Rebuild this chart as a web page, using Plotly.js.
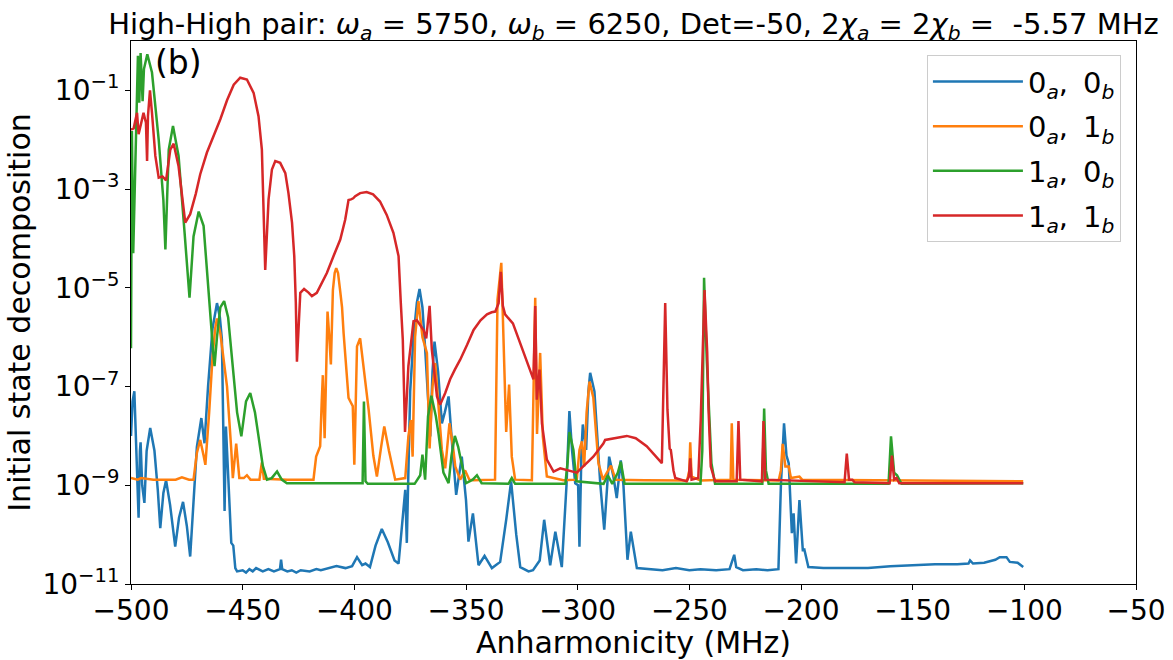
<!DOCTYPE html>
<html>
<head>
<meta charset="utf-8">
<script src="https://cdn.plot.ly/plotly-3.0.1.min.js"></script>
<style>
  html, body { margin: 0; padding: 0; background: #fff; }
  #chart { width: 1173px; height: 660px; }
</style>
</head>
<body>
<div id="chart"></div>
<script>
// --- data: [anharmonicity (MHz), population] ---

const state00 = [
  [-500, 1.0e-8], [-499.3, 5e-8], [-498.5, 8e-8], [-497.8, 1.2e-8], [-496.6, 2.2e-10], [-496.0, 5e-9],
  [-495.7, 7.4e-9], [-495.0, 1e-9], [-494.0, 4.4e-10], [-493.0, 5e-9], [-491.4, 1.45e-8], [-489.5, 5e-9],
  [-488.0, 8e-10], [-486.9, 1.35e-10], [-485.5, 7e-10], [-484.3, 1.26e-9], [-482.5, 4e-10], [-480.2, 5.7e-11],
  [-478.5, 2.2e-10], [-476.7, 4.6e-10], [-475.0, 1.5e-10], [-473.5, 3.6e-11], [-472.0, 5e-10], [-470.5, 6e-9],
  [-468.5, 2.3e-8], [-467.1, 7.1e-9], [-465.5, 1e-7], [-463.5, 1.5e-6], [-461.5, 4.9e-6], [-460.2, 2.5e-6],
  [-459.3, 8.9e-7], [-458.6, 1e-8], [-458.1, 3e-10], [-457.5, 1.55e-8], [-456.8, 3e-9], [-455.8, 2e-10],
  [-455.1, 6.8e-11], [-454.2, 6e-11], [-453.3, 2.1e-11], [-452.5, 1.8e-11], [-450.0, 1.9e-11], [-448.5, 1.7e-11],
  [-447.0, 2e-11], [-445.5, 1.8e-11], [-444.0, 2.1e-11], [-441.0, 1.8e-11], [-438.5, 2e-11], [-436.0, 1.8e-11],
  [-433.3, 2e-11], [-432.8, 3.1e-11], [-432.3, 2e-11], [-430, 1.8e-11], [-428, 1.9e-11], [-426, 1.7e-11],
  [-424, 1.9e-11], [-420, 1.8e-11], [-417, 2e-11], [-415, 1.9e-11], [-411, 2.1e-11], [-408, 2.3e-11],
  [-404, 2.1e-11], [-401, 2.3e-11], [-398.8, 3.5e-11], [-396.5, 2.4e-11], [-395, 2.6e-11], [-393, 2.2e-11],
  [-390.5, 6e-11], [-387.7, 1.3e-10], [-385.0, 7e-11], [-382.0, 3e-11], [-380.2, 2.6e-11], [-378.8, 1.2e-10],
  [-377.2, 8.1e-10], [-376.5, 6.8e-11], [-375.7, 5e-9], [-375.0, 7.9e-8], [-373.5, 1e-6], [-372.0, 5e-6],
  [-370.8, 9.5e-6], [-369.5, 4e-6], [-368.3, 6e-7], [-367.5, 1.6e-7], [-366.0, 9.8e-9], [-365.0, 2e-7],
  [-364.1, 8.1e-7], [-362.5, 2e-7], [-360.8, 1.8e-8], [-359.5, 3e-8], [-357.8, 6.3e-8], [-356.0, 5e-9],
  [-354.4, 6.4e-10], [-351.9, 3.8e-9], [-350.0, 5e-10], [-348.9, 7.2e-11], [-346.9, 2.7e-10], [-344.4, 2.4e-11],
  [-341.7, 3.7e-11], [-338.4, 2.1e-11], [-334.7, 2.8e-11], [-332.0, 2e-10], [-329.8, 1.2e-9], [-327.5, 1e-10],
  [-325.7, 2.2e-11], [-322, 1.8e-11], [-320, 1.9e-11], [-317, 3e-11], [-315, 2e-10], [-312.3, 2.4e-11],
  [-310, 1.15e-10], [-307.1, 2.2e-11], [-305, 1e-9], [-303.7, 3.2e-8], [-302.5, 5e-9], [-301.1, 1.1e-9],
  [-299.8, 1e-9], [-299.2, 5.7e-11], [-298.3, 5e-9], [-297.7, 1.7e-8], [-296.2, 5.2e-9], [-295.2, 8e-8],
  [-294.4, 1.9e-7], [-292.5, 8e-8], [-290.5, 3e-9], [-289.9, 1.1e-9], [-288.1, 1.26e-10], [-285.9, 3.8e-9],
  [-284, 1.5e-9], [-282.5, 5.5e-10], [-280.7, 3.2e-9], [-279.5, 1e-9], [-277.7, 3.1e-11], [-276.2, 1.15e-10],
  [-273.5, 2.1e-11], [-268, 2e-11], [-262, 1.9e-11], [-256, 2.1e-11], [-250, 1.9e-11], [-245, 2e-11],
  [-238, 1.9e-11], [-232, 2e-11], [-229.9, 3.9e-11], [-229, 2.2e-11], [-226, 1.9e-11], [-220, 2e-11],
  [-215, 1.9e-11], [-210.1, 2e-11], [-209, 1e-9], [-207.6, 1.8e-8], [-206.5, 4e-9], [-205.5, 2.8e-9],
  [-204.8, 5e-10], [-204.1, 1.07e-10], [-203.3, 2.7e-10], [-202.2, 2.6e-11], [-200.7, 5e-10], [-199.8, 1e-10],
  [-199.2, 4.9e-11], [-198.5, 5e-11], [-196.7, 2.2e-11], [-190, 2.1e-11], [-180, 2.1e-11], [-170, 2.1e-11],
  [-160, 2.3e-11], [-150, 2.4e-11], [-140, 2.5e-11], [-130, 2.5e-11], [-125, 2.6e-11], [-124.3, 3e-11],
  [-123, 2.6e-11], [-118, 2.7e-11], [-113, 3.1e-11], [-111, 3.5e-11], [-108, 3.5e-11], [-106.5, 2.8e-11],
  [-103, 2.7e-11], [-100.5, 2.2e-11]
];

const state01 = [
  [-500, 1.4e-9], [-497, 1.3e-9], [-495.5, 1.4e-9], [-490, 1.3e-9], [-480, 1.3e-9], [-477.2, 1.45e-9],
  [-474, 1.3e-9], [-472, 1.3e-9], [-470.5, 4.5e-9], [-469, 8.3e-9], [-467.5, 4e-9], [-466.7, 2.6e-9],
  [-465, 3e-8], [-463.5, 4e-7], [-462.3, 1.5e-6], [-461.5, 2.4e-6], [-460, 1.2e-6], [-458.6, 4.1e-7],
  [-457, 1e-7], [-455.1, 5.2e-9], [-454.4, 1.4e-9], [-452.9, 7e-9], [-451.5, 1.4e-9], [-449.5, 1.4e-9],
  [-448.1, 1.6e-9], [-446.5, 1.3e-9], [-442.5, 1.3e-9], [-441.4, 2.9e-9], [-440.5, 1.35e-9], [-430, 1.3e-9],
  [-418.3, 1.3e-9], [-417.1, 3.8e-9], [-415.3, 6.2e-9], [-414.6, 5e-8], [-414.1, 1.7e-7], [-413.3, 9e-9],
  [-412.5, 5e-7], [-412, 3.3e-6], [-411.2, 1e-6], [-410.5, 2.8e-7], [-409.6, 9e-6], [-408.8, 2e-5],
  [-408.1, 2.5e-5], [-407.3, 2e-5], [-406.5, 1e-5], [-405.5, 4e-6], [-404.8, 1.2e-6], [-402.6, 5.9e-8],
  [-401.5, 4.7e-8], [-400.7, 4e-8], [-400, 2.6e-9], [-399.3, 1e-7], [-398.8, 6.5e-7], [-397.4, 9.5e-7],
  [-395.5, 2e-7], [-393.6, 3.4e-8], [-391.5, 4e-9], [-389.9, 1.5e-9], [-388, 6e-9], [-386.6, 1.55e-8],
  [-384.5, 5e-9], [-381.7, 1.3e-9], [-377.2, 1.4e-9], [-375.8, 9.8e-9], [-374.7, 2.1e-8], [-373.9, 3.8e-9],
  [-372.8, 1e-6], [-371.3, 5.4e-6], [-369.5, 1e-6], [-367.5, 4.8e-7], [-366.3, 5.6e-9], [-365, 1e-7],
  [-363.8, 3e-7], [-362, 3e-8], [-360.8, 5.2e-9], [-359.3, 2.2e-9], [-357.4, 1.8e-8], [-355.8, 6e-9],
  [-354.8, 2.4e-9], [-352.6, 1.3e-9], [-350.4, 2e-9], [-348.5, 1.3e-9], [-346.6, 1.26e-9], [-337, 1.3e-9],
  [-335.9, 5.7e-6], [-334.2, 3.2e-5], [-333.2, 5.6e-7], [-332, 1.2e-8], [-330.7, 1.1e-7], [-329.5, 3.8e-9],
  [-328, 1.3e-9], [-320.5, 1.26e-9], [-319, 6.3e-6], [-318.2, 1.1e-8], [-316.8, 4.8e-7], [-315.6, 9.8e-9],
  [-313.8, 1.5e-9], [-306.4, 1.26e-9], [-300.4, 1.3e-9], [-299.2, 5.2e-9], [-298.1, 7.8e-9], [-297.1, 2.4e-9],
  [-296, 3e-8], [-294.7, 1.26e-7], [-293, 6e-8], [-290.7, 2.8e-9], [-288.7, 1.3e-9], [-285.1, 2.5e-9],
  [-283, 1.3e-9], [-270, 1.26e-9], [-251, 1.25e-9], [-250, 2e-9], [-249.6, 7.4e-9], [-249, 1.5e-9],
  [-245, 1.25e-9], [-231.5, 1.3e-9], [-231, 1.8e-8], [-230.3, 1.3e-9], [-210, 1.25e-9], [-209, 2e-9],
  [-208.2, 6.9e-9], [-207, 2.4e-9], [-205.5, 2.4e-9], [-204.5, 1.4e-9], [-200.7, 1.5e-9], [-199.5, 1.3e-9],
  [-150, 1.25e-9], [-100.5, 1.2e-9]
];

const state10 = [
  [-500, 6e-7], [-499.6, 1.5e-2], [-499, 5e-5], [-497.8, 2.2e-2], [-496.9, 0.5], [-496.3, 5.6e-2],
  [-495.7, 0.57], [-494.8, 6e-2], [-494.2, 0.27], [-492.7, 0.54], [-490.6, 0.23], [-487.6, 1e-2],
  [-485.5, 6e-4], [-484.6, 6e-5], [-483.1, 6.3e-3], [-481.2, 1.9e-2], [-478.7, 4.7e-3], [-476, 1.3e-4],
  [-473.8, 6.3e-6], [-472, 1.1e-4], [-469.7, 3.5e-4], [-467.5, 1.8e-4], [-465.5, 1.2e-5], [-464.3, 1.5e-6],
  [-463.2, 5e-7], [-462.6, 2.6e-7], [-461.5, 1e-6], [-460, 4e-6], [-458.3, 5.4e-6], [-456.5, 2.5e-6],
  [-454.8, 4.1e-7], [-452.5, 3e-8], [-450.6, 9.8e-9], [-448.5, 5e-8], [-446.6, 7.4e-8], [-444.5, 3e-8],
  [-442.9, 9.8e-9], [-441, 2.5e-9], [-439.1, 1.3e-9], [-437, 1.4e-9], [-434.6, 1.9e-9], [-432.5, 1.3e-9],
  [-430.2, 1.1e-9], [-400, 1.07e-9], [-396.3, 1.1e-9], [-395.7, 5e-8], [-395, 1.2e-9], [-394, 1.07e-9],
  [-373, 1.07e-9], [-370.5, 1.6e-9], [-369.5, 4.2e-9], [-368.3, 1.3e-9], [-367, 2.5e-8], [-365.5, 6.5e-8],
  [-363.5, 2.5e-8], [-362.3, 1.1e-8], [-360.1, 1.8e-9], [-357.8, 1.1e-9], [-356.5, 4e-9], [-355, 1e-8],
  [-353.5, 6e-9], [-352.6, 3.8e-9], [-350, 1.1e-9], [-347, 1.3e-9], [-345.1, 1.6e-9], [-343, 1.1e-9],
  [-331, 1.07e-9], [-329.5, 1.4e-9], [-328, 1.07e-9], [-305.5, 1.07e-9], [-304.5, 3e-9], [-303.7, 1.2e-8],
  [-301.9, 5.2e-9], [-300.6, 1.2e-9], [-288.4, 1.07e-9], [-286.5, 1.6e-9], [-284.5, 1.07e-9], [-282, 1.8e-9],
  [-280.7, 3e-9], [-279, 1.07e-9], [-245, 1.07e-9], [-244.2, 5e-9], [-243.4, 1.6e-5], [-242.2, 3.5e-7],
  [-240.1, 2.8e-9], [-238.5, 1.07e-9], [-217.3, 1.07e-9], [-216.5, 3.6e-8], [-215.7, 2e-9], [-214.5, 1.07e-9],
  [-160.8, 1.07e-9], [-159.7, 9.8e-9], [-158.3, 1.8e-9], [-157, 1.6e-9], [-155, 1.07e-9], [-100.5, 1.1e-9]
];

const state11 = [
  [-500, 1.6e-2], [-498.8, 1.7e-2], [-497.3, 3.5e-2], [-496.6, 1.3e-2], [-495.4, 2.2e-2], [-494.4, 3.5e-2],
  [-493.3, 2.2e-2], [-492.8, 3.7e-3], [-492.4, 3e-2], [-491.5, 0.1], [-490.6, 3.5e-2], [-489.1, 4.7e-3],
  [-487.6, 1.7e-3], [-485.9, 1.8e-3], [-484.3, 1.5e-3], [-482.4, 6.3e-3], [-480.9, 8.3e-3], [-478.7, 2.9e-3],
  [-475.7, 2.1e-4], [-473.5, 3.1e-4], [-471, 8e-4], [-469, 2e-3], [-466, 5.5e-3], [-463, 1.2e-2],
  [-460, 2.6e-2], [-457, 6.3e-2], [-454, 0.13], [-451.1, 0.18], [-448.1, 0.166], [-445.1, 8.9e-2],
  [-442.9, 3e-2], [-441.4, 6.3e-3], [-440.6, 4.5e-4], [-439.9, 2.3e-5], [-438.4, 6.2e-4], [-436.9, 2.5e-3],
  [-435.4, 3.7e-3], [-433.2, 3.4e-3], [-430.9, 2.1e-3], [-429.5, 8.3e-4], [-427.9, 2.1e-4], [-426.9, 4.4e-5],
  [-426.2, 5e-6], [-425.7, 3.2e-7], [-424.2, 7.9e-6], [-422.5, 9.5e-6], [-420.5, 8e-6], [-419, 6.8e-6],
  [-416.8, 7.9e-6], [-414.5, 1.3e-5], [-412.3, 2e-5], [-409.3, 4.4e-5], [-406.3, 9.5e-5], [-404.1, 2.4e-4],
  [-402.6, 6e-4], [-401.5, 6.2e-4], [-400.5, 6.5e-4], [-399.6, 7.2e-4], [-397.4, 8.3e-4], [-394.5, 8.7e-4],
  [-391.6, 7.8e-4], [-388.5, 5.6e-4], [-385.5, 3e-4], [-382.5, 1.3e-4], [-380.2, 4.4e-5], [-379.2, 5e-6],
  [-378.3, 8.9e-7], [-377.3, 1.2e-8], [-375.8, 2.6e-7], [-373.5, 2.1e-6], [-372, 2.2e-6], [-369, 1.4e-6],
  [-367.8, 9.5e-7], [-366.3, 4.3e-6], [-365.3, 5.6e-7], [-363, 6.3e-8], [-361.6, 4.3e-8], [-359.3, 7.4e-8],
  [-357.1, 1.4e-7], [-355, 2.2e-7], [-352.6, 3.5e-7], [-349.5, 7e-7], [-346.6, 1.4e-6], [-343.5, 2.2e-6],
  [-340.6, 2.9e-6], [-338.5, 3.2e-6], [-336.9, 3.3e-6], [-335.4, 4.9e-6], [-334.4, 2.1e-5], [-333.5, 4.3e-6],
  [-332.5, 2.9e-6], [-329, 1.9e-6], [-325.7, 7.6e-7], [-323, 3.5e-7], [-321, 2e-7], [-319.8, 1.4e-7],
  [-319, 4.3e-6], [-318.3, 5.4e-8], [-317.1, 2.2e-7], [-316, 1.8e-8], [-313.8, 3.3e-9], [-310.8, 1.9e-9],
  [-307.8, 2.2e-9], [-300.4, 1.8e-9], [-293, 3.8e-9], [-288.5, 7e-9], [-287.7, 8.3e-9], [-283, 9e-9],
  [-278, 1e-8], [-274, 9e-9], [-269.1, 6.2e-9], [-262.3, 2.8e-9], [-260.8, 4.9e-6], [-259.8, 3.4e-8],
  [-258.8, 5.5e-9], [-258.3, 5.2e-9], [-257.1, 2e-9], [-256.3, 1.4e-9], [-251.2, 1.2e-9], [-250.2, 1.5e-9],
  [-249.6, 3.5e-9], [-249, 1.3e-9], [-246, 1.4e-9], [-244.9, 2.1e-8], [-243.2, 9e-6], [-242, 5e-7],
  [-241.4, 3.4e-8], [-240.4, 2.4e-9], [-238.5, 1.2e-9], [-228.8, 1.2e-9], [-228, 2e-8], [-227.2, 1.3e-9],
  [-217.5, 1.2e-9], [-216.8, 2e-8], [-216, 1.3e-9], [-180.5, 1.15e-9], [-179.5, 4.4e-9], [-178.5, 1.3e-9],
  [-177, 1.3e-9], [-176, 1.15e-9], [-160.3, 1.1e-9], [-159.3, 4e-9], [-158.3, 1.3e-9], [-157.2, 1.4e-9],
  [-156, 1.1e-9], [-100.5, 1.1e-9]
];

const seriesNames = [
  '0<sub><i>a</i></sub>,&#8201; 0<sub><i>b</i></sub>',
  '0<sub><i>a</i></sub>,&#8201; 1<sub><i>b</i></sub>',
  '1<sub><i>a</i></sub>,&#8201; 0<sub><i>b</i></sub>',
  '1<sub><i>a</i></sub>,&#8201; 1<sub><i>b</i></sub>'
];
const seriesColors = ['#1f77b4', '#ff7f0e', '#2ca02c', '#d62728'];
const xTicks = [-500, -450, -400, -350, -300, -250, -200, -150, -100, -50];
const yTicks = [1e-11, 1e-9, 1e-7, 1e-5, 1e-3, 1e-1];
const yTickText = ['10<sup>−11</sup>', '10<sup>−9</sup>', '10<sup>−7</sup>', '10<sup>−5</sup>', '10<sup>−3</sup>', '10<sup>−1</sup>'];

const titleText = 'High-High pair: <i>ω</i><sub><i>a</i></sub> = 5750, <i>ω</i><sub><i>b</i></sub> = 6250, ' +
  'Det=-50, 2<i>χ</i><sub><i>a</i></sub> = 2<i>χ</i><sub><i>b</i></sub> =  -5.57 MHz';

// --- build the traces ---
const allSeries = [state00, state01, state10, state11];
const traces = allSeries.map((pts, i) => ({
  x: pts.map(p => p[0]),
  y: pts.map(p => p[1]),
  type: 'scatter',
  mode: 'lines',
  name: seriesNames[i],
  legendgroup: 'g' + i,
  line: { color: seriesColors[i], width: 2.5 },
  hoverinfo: 'none'
}));

const layout = {
  width: 1173,
  height: 660,
  margin: { l: 131, r: 37, t: 41, b: 76 },
  paper_bgcolor: '#ffffff',
  plot_bgcolor: '#ffffff',
  font: { family: 'DejaVu Sans', size: 28, color: '#000000' },
  title: {
    text: titleText,
    font: { size: 29 },
    xref: 'paper', x: 0.5, xanchor: 'center',
    yref: 'container', y: 0.98, yanchor: 'top'
  },
  xaxis: {
    range: [-500, -50],
    tickvals: xTicks,
    ticks: 'outside', ticklen: 5, tickwidth: 1, tickcolor: '#000',
    ticklabelstandoff: -4,
    showline: true, mirror: true, linecolor: '#000', linewidth: 1,
    showgrid: false, zeroline: false,
    title: { text: 'Anharmonicity (MHz)', standoff: 0, font: { size: 30 } }
  },
  yaxis: {
    type: 'log',
    range: [-11, 0],
    tickvals: yTicks,
    ticktext: yTickText,
    ticks: 'outside', ticklen: 5, tickwidth: 1, tickcolor: '#000',
    showline: true, mirror: true, linecolor: '#000', linewidth: 1,
    showgrid: false, zeroline: false,
    title: { text: 'Initial state decomposition', standoff: 2, font: { size: 30 } }
  },
  showlegend: true,
  legend: {
    x: 0.985, xanchor: 'right',
    y: 0.974, yanchor: 'top',
    bgcolor: 'rgba(255,255,255,0.8)',
    bordercolor: '#cccccc', borderwidth: 1,
    traceorder: 'grouped', tracegroupgap: 4,
    itemwidth: 90,
    font: { size: 29 }
  },
  annotations: [{
    text: '(b)', showarrow: false,
    xref: 'paper', yref: 'paper',
    x: 0.022, y: 1.0, xanchor: 'left', yanchor: 'top',
    font: { size: 33 }
  }]
};

Plotly.newPlot('chart', traces, layout, { staticPlot: true, displayModeBar: false });
</script>
</body>
</html>
